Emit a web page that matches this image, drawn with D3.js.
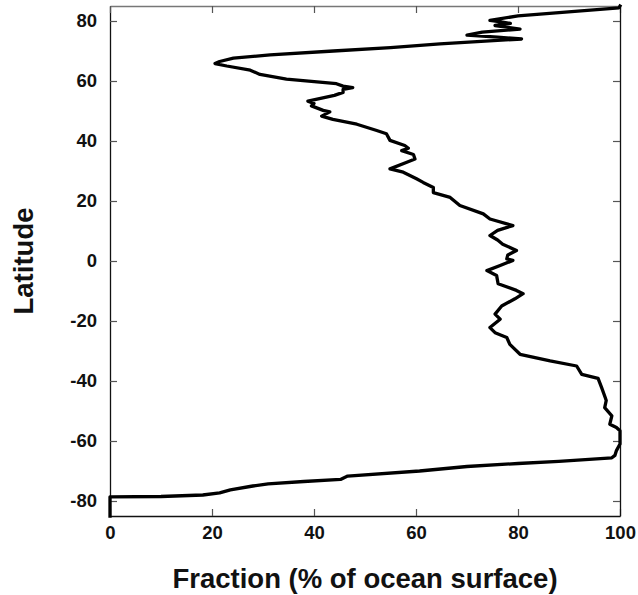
<!DOCTYPE html>
<html>
<head>
<meta charset="utf-8">
<script src="https://cdn.jsdelivr.net/npm/d3@7/dist/d3.min.js"></script>
<style>
  html, body { margin: 0; padding: 0; background: #fff; }
  svg { display: block; }
  .tick text { font-family: "Liberation Sans", Arial, Helvetica, sans-serif; font-weight: bold; }
  .title { font-family: "Liberation Sans", Arial, Helvetica, sans-serif; font-weight: bold; }
</style>
</head>
<body>
<svg id="chart" width="638" height="595"></svg>
<script>
// Latitude (degrees) of each profile sample, north to south
const latitude = [
  85, 84.4, 81.7, 80.2, 79.6, 79.2, 78.5, 77.3, 76.3, 75.3, 74.6, 74, 72.4, 71.1, 70,
  68.7, 67.6, 66.5, 65.8, 65, 63.6, 62.2, 60.6, 59.1, 58.3, 57.8, 57.2, 56.2, 55.2,
  53.3, 52.5, 51.7, 50.2, 49.7, 48.3, 47.2, 45.6, 43.5, 42.4, 40.2, 38.5, 37.6, 36.8,
  35.5, 34, 32.9, 30.7, 29.6, 28.5, 27.4, 26.2, 24.5, 22.8, 21.2, 18.5, 15.7, 14,
  11.8, 10.2, 8.5, 7, 5.6, 3.5, 2, 0.7, 0.2, -1.5, -3.2, -4.8, -7.6, -9.8, -10.9,
  -12.6, -15, -17.7, -19.4, -22.2, -23.9, -25.5, -27.8, -31.1, -33.3, -35, -37.8,
  -39.1, -42.2, -45.5, -46.5, -48.9, -51.6, -54.4, -55.5, -56.6, -61, -63.2, -64.8,
  -65.6, -66.8, -67.5, -68.5, -70, -71.7, -72.3, -72.8, -73.5, -74.3, -75, -76.3,
  -77.3, -78, -78.5, -78.6, -85
];

// Fraction of the ocean surface (%) at each latitude above
const fraction = [
  100, 99.8, 80, 74.5, 77, 78.5, 75.5, 80.4, 73, 70, 76, 80.7, 64.7, 55, 43.8,
  31.4, 24.2, 21.5, 20.6, 22.9, 27.5, 29.4, 34.6, 44.4, 45.7, 47.6, 45.7, 45.7, 44,
  38.8, 40, 39.5, 41.8, 43.1, 41.5, 43.7, 48.4, 52.3, 54.2, 54.9, 57.8, 58.5, 57.2,
  59.5, 59.8, 58.2, 54.9, 57.5, 58.8, 60.1, 61.4, 63.4, 63.4, 66.7, 68.6, 73.2, 74.5,
  79, 76, 74.5, 76, 77, 79.7, 78, 77.8, 79, 76.5, 73.9, 75.8, 76.1, 79.7, 81,
  79.4, 76.8, 75.5, 76.5, 74.5, 75.5, 77.8, 78.4, 80.4, 86.3, 91.5, 92.5,
  95.7, 96.4, 97.1, 97.3, 97, 98.4, 98, 99.3, 100, 100, 99.3, 99,
  98.4, 88, 80, 70, 60.7, 46.6, 45.8, 45.2, 38, 31, 28, 23.6,
  21.5, 18.2, 10, 0, 0
];

const xTicks = [0, 20, 40, 60, 80, 100];
const yTicks = [-80, -60, -40, -20, 0, 20, 40, 60, 80];

const svg = d3.select("#chart");
const frame = { left: 110, right: 620, top: 6, bottom: 516 };

const x = d3.scaleLinear().domain([0, 100]).range([frame.left, frame.right]);
const y = d3.scaleLinear().domain([-85, 85]).range([frame.bottom, frame.top]);

const tickLen = 7;
const plain = d => String(d);   // keeps the ASCII hyphen for negatives

// Bottom axis with labels, ticks pointing inward
const gx = svg.append("g")
  .attr("transform", `translate(0,${frame.bottom})`)
  .call(d3.axisBottom(x).tickValues(xTicks).tickFormat(plain)
    .tickSizeInner(-tickLen).tickSizeOuter(0).tickPadding(10));

// Left axis with labels
const gy = svg.append("g")
  .attr("transform", `translate(${frame.left},0)`)
  .call(d3.axisLeft(y).tickValues(yTicks).tickFormat(plain)
    .tickSizeInner(-tickLen).tickSizeOuter(0).tickPadding(13));

// Top and right frame with inward ticks, no labels
const gt = svg.append("g")
  .attr("transform", `translate(0,${frame.top})`)
  .call(d3.axisTop(x).tickValues(xTicks).tickFormat("")
    .tickSizeInner(-tickLen).tickSizeOuter(0));

const gr = svg.append("g")
  .attr("transform", `translate(${frame.right},0)`)
  .call(d3.axisRight(y).tickValues(yTicks).tickFormat("")
    .tickSizeInner(-tickLen).tickSizeOuter(0));

[gx, gy, gt, gr].forEach(g => {
  g.select(".domain").attr("stroke", "#111").attr("stroke-width", 1.3);
  g.selectAll(".tick line").attr("stroke", "#555").attr("stroke-width", 1.2);
  g.selectAll(".tick text").attr("font-size", 18.5).attr("fill", "#111");
});
gt.select(".domain").attr("stroke", "#777");

// Profile line
const points = latitude.map((lat, i) => [fraction[i], lat]);
const line = d3.line()
  .x(d => x(d[0]))
  .y(d => y(d[1]));

svg.append("path")
  .datum(points)
  .attr("fill", "none")
  .attr("stroke", "#000")
  .attr("stroke-width", 3.3)
  .attr("stroke-linejoin", "round")
  .attr("stroke-linecap", "square")
  .attr("d", line);

// Axis titles
svg.append("text")
  .attr("class", "title")
  .attr("x", (frame.left + frame.right) / 2)
  .attr("y", 588)
  .attr("text-anchor", "middle")
  .attr("font-size", 27.5)
  .attr("fill", "#111")
  .text("Fraction (% of ocean surface)");

svg.append("text")
  .attr("class", "title")
  .attr("transform", `translate(33,${(frame.top + frame.bottom) / 2}) rotate(-90)`)
  .attr("text-anchor", "middle")
  .attr("font-size", 27.5)
  .attr("fill", "#111")
  .text("Latitude");
</script>
</body>
</html>
